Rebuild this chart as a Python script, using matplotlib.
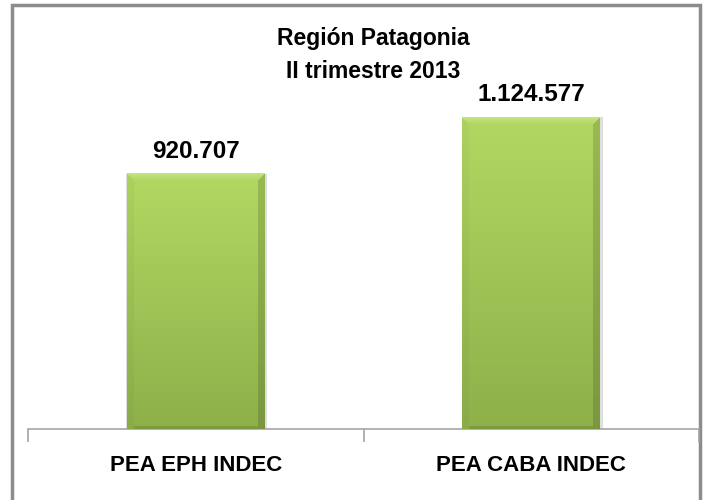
import numpy as np
import matplotlib
matplotlib.use("Agg")
import matplotlib.pyplot as plt
from matplotlib.patches import Rectangle

categories = ["PEA EPH INDEC", "PEA CABA INDEC"]
values = [920707, 1124577]
value_labels = ["920.707", "1.124.577"]
title = "Región Patagonia\nII trimestre 2013"

FONT = ["Liberation Sans Narrow", "Liberation Sans", "DejaVu Sans"]

W, H = 707, 500
fig = plt.figure(figsize=(W / 100, H / 100), dpi=100)
fig.patch.set_facecolor("white")

# outer chart border
fig.add_artist(Rectangle((12 / W, -0.05), (700 - 12) / W, (H - 5) / H + 0.05,
                         transform=fig.transFigure, fill=False,
                         edgecolor="#8c8c8c", linewidth=2.5, zorder=0))

ax_left, ax_right = 28 / W, 699 / W
ax_bottom = (H - 429) / H
ax_top = (H - 20) / H
ax = fig.add_axes([ax_left, ax_bottom, ax_right - ax_left, ax_top - ax_bottom])
ax.set_facecolor("none")

px_per_unit = 2.772e-4
ymax = (429 - 20) / px_per_unit
ax.set_xlim(-0.5, 1.5)
ax.set_ylim(0, ymax)

x = np.arange(len(categories))
bw = 0.41
bars = ax.bar(x, values, width=bw, color="#a0c65a", edgecolor="none", zorder=2)

def bevel_image(wpx, hpx):
    wpx, hpx = int(round(wpx)), int(round(hpx))
    r = np.arange(hpx)[:, None] * np.ones((1, wpx))
    c = np.ones((hpx, 1)) * np.arange(wpx)[None, :]
    t = r / max(hpx - 1, 1)
    top = np.array([178, 216, 98]) / 255
    bot = np.array([142, 176, 74]) / 255
    img = top[None, None, :] * (1 - t[..., None]) + bot[None, None, :] * t[..., None]
    b = 7.0
    dl = c
    dr = wpx - 1 - c
    dt = r
    db = hpx - 1 - r
    topb = (dt < b) & (dt <= dl) & (dt <= dr)
    leftb = (dl < b) & (dl < dt) & (dl <= dr)
    rightb = (dr < b) & (dr < dt) & (dr < dl)
    botb = (db < 3) & ~leftb & ~rightb
    light = np.array([200, 230, 135]) / 255
    f = (1 - dt / b)[..., None]
    img = np.where(topb[..., None], img * (1 - 0.8 * f) + light * 0.8 * f, img)
    img = np.where(leftb[..., None], img * 0.97, img)
    img = np.where(rightb[..., None], img * 0.86, img)
    img = np.where(botb[..., None], img * 0.88, img)
    return np.clip(img, 0, 1)

for bar in bars:
    x0 = bar.get_x()
    x1 = x0 + bar.get_width()
    h = bar.get_height()
    p0 = ax.transData.transform((x0, 0))
    p1 = ax.transData.transform((x1, h))
    img = bevel_image(p1[0] - p0[0], p1[1] - p0[1])
    # soft shadow
    ax.bar(bar.get_x() + bar.get_width() / 2 + 0.003, h, width=bar.get_width() + 0.01,
           color="#dedede", edgecolor="none", zorder=1)
    ax.imshow(img, extent=(x0, x1, 0, h), aspect="auto", zorder=3, interpolation="bilinear")

ax.set_xlim(-0.5, 1.5)
ax.set_ylim(0, ymax)

for xi, v, lab in zip(x, values, value_labels):
    ax.annotate(lab, (xi, v), xytext=(0, 8), textcoords="offset points",
                ha="center", va="bottom", fontsize=17.5, fontweight="bold",
                family=FONT, color="black", zorder=4)

for s in ["top", "right", "left"]:
    ax.spines[s].set_visible(False)
ax.spines["bottom"].set_color("#a6a6a6")
ax.spines["bottom"].set_linewidth(1.2)
ax.set_yticks([])
ax.set_xticks([-0.5, 0.5, 1.5])
ax.set_xticklabels([])
ax.set_xticks(x, minor=True)
ax.set_xticklabels(categories, minor=True, fontsize=16, fontweight="bold", family=FONT)
ax.tick_params(axis="x", which="major", length=9, color="#a6a6a6", width=1.2)
ax.tick_params(axis="x", which="minor", length=0, pad=19)

fig.text(373 / W, 1 - 55 / H, title, ha="center", va="center", fontsize=16.5,
         fontweight="bold", family=FONT, linespacing=1.6)

fig.savefig("out.png", dpi=100)
